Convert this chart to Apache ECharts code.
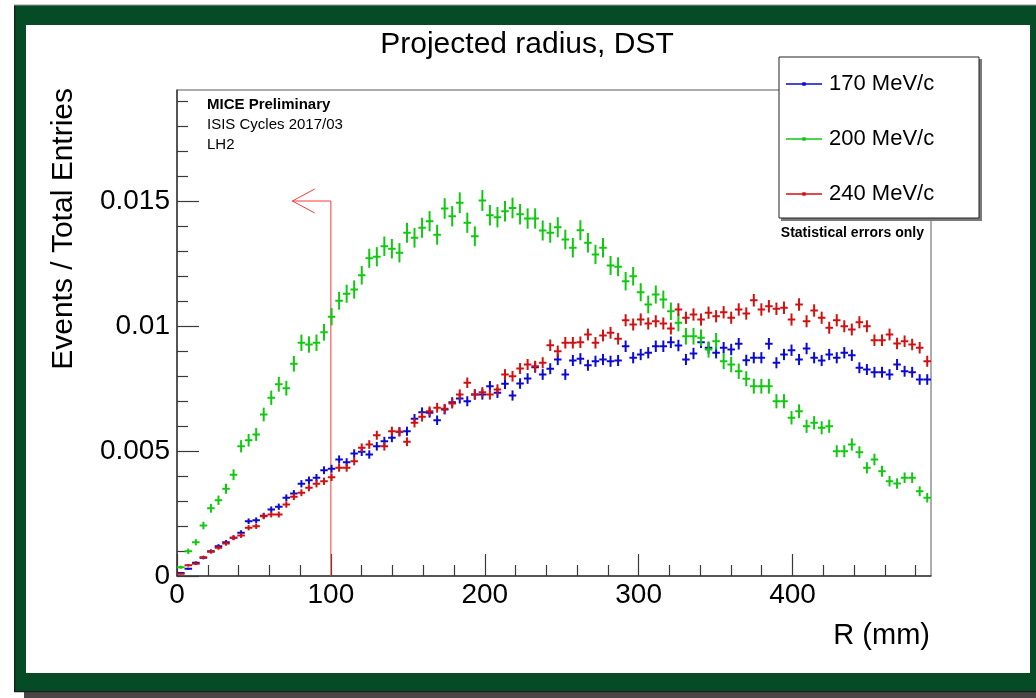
<!DOCTYPE html>
<html><head><meta charset="utf-8">
<script src="https://cdn.jsdelivr.net/npm/echarts@6/dist/echarts.min.js"></script>
<style>html,body{margin:0;padding:0;background:#fff}#c{width:1036px;height:698px}</style>
</head><body><div id="c"></div>
<script>
// ---- histogram binning (R in mm) ----
const binWidth = 4.9;
const nBins = 100;
const rMin = 0, rMax = 490;
const yMin = 0, yMax = 0.01944;

const seriesNames = ['170 MeV/c', '200 MeV/c', '240 MeV/c'];
const seriesColors = ['#0a0ad2', '#10c810', '#d21010'];

// ---- bin contents (Events / Total Entries) ----
const p170 = [
0.00012,0.00029,0.00053,0.00073,0.00099,0.00119,0.00135,0.00153,0.00173,0.00219,
0.00223,0.00241,0.00266,0.00277,0.00313,0.00330,0.00369,0.00383,0.00393,0.00423,
0.00429,0.00466,0.00455,0.00490,0.00497,0.00486,0.00519,0.00539,0.00553,0.00577,
0.00579,0.00629,0.00655,0.00653,0.00623,0.00666,0.00695,0.00710,0.00699,0.00726,
0.00726,0.00759,0.00733,0.00769,0.00722,0.00770,0.00790,0.00835,0.00806,0.00829,
0.00866,0.00806,0.00862,0.00869,0.00843,0.00859,0.00866,0.00859,0.00862,0.00919,
0.00873,0.00886,0.00893,0.00919,0.00919,0.00935,0.00922,0.00866,0.00890,0.00935,
0.00913,0.00893,0.00913,0.00906,0.00929,0.00863,0.00873,0.00873,0.00929,0.00853,
0.00886,0.00903,0.00866,0.00910,0.00873,0.00862,0.00886,0.00873,0.00893,0.00883,
0.00833,0.00826,0.00815,0.00815,0.00806,0.00846,0.00819,0.00815,0.00786,0.00786];

const p200 = [
0.00035,0.00099,0.00135,0.00202,0.00271,0.00303,0.00349,0.00405,0.00519,0.00543,
0.00566,0.00646,0.00713,0.00767,0.00751,0.00849,0.00933,0.00926,0.00933,0.00975,
0.01037,0.01101,0.01129,0.01146,0.01203,0.01271,0.01277,0.01319,0.01309,0.01293,
0.01373,0.01353,0.01393,0.01419,0.01365,0.01470,0.01439,0.01493,0.01413,0.01359,
0.01502,0.01443,0.01435,0.01459,0.01472,0.01447,0.01430,0.01430,0.01382,0.01373,
0.01395,0.01346,0.01313,0.01383,0.01333,0.01286,0.01313,0.01242,0.01237,0.01179,
0.01199,0.01135,0.01086,0.01126,0.01106,0.01059,0.01013,0.00959,0.00959,0.00953,
0.00906,0.00939,0.00859,0.00846,0.00819,0.00789,0.00759,0.00759,0.00759,0.00699,
0.00699,0.00633,0.00659,0.00599,0.00613,0.00593,0.00599,0.00499,0.00499,0.00526,
0.00495,0.00433,0.00466,0.00419,0.00379,0.00370,0.00393,0.00393,0.00339,0.00313];

const p240 = [
0.00009,0.00043,0.00049,0.00075,0.00097,0.00113,0.00130,0.00153,0.00162,0.00193,
0.00199,0.00239,0.00246,0.00246,0.00286,0.00317,0.00333,0.00353,0.00369,0.00379,
0.00395,0.00433,0.00433,0.00459,0.00513,0.00526,0.00563,0.00519,0.00579,0.00577,
0.00537,0.00613,0.00637,0.00659,0.00673,0.00669,0.00690,0.00726,0.00773,0.00726,
0.00735,0.00726,0.00746,0.00806,0.00799,0.00830,0.00846,0.00839,0.00853,0.00923,
0.00899,0.00933,0.00933,0.00935,0.00966,0.00933,0.00962,0.00973,0.00949,0.01023,
0.01006,0.01026,0.01010,0.01019,0.01010,0.00990,0.01066,0.01033,0.01046,0.01026,
0.01053,0.01039,0.01055,0.01033,0.01066,0.01050,0.01103,0.01066,0.01079,0.01069,
0.01073,0.01026,0.01086,0.01019,0.01062,0.01033,0.00993,0.01023,0.00999,0.00986,
0.01015,0.00999,0.00943,0.00943,0.00966,0.00930,0.00939,0.00926,0.00913,0.00859];

// statistical error scale (error = scale * sqrt(content))
const errScales = [0.0024, 0.0034, 0.0024];

// ---- ticks ----
const xMajorTicks = [0, 100, 200, 300, 400];
const xMinorTicks = [20, 40, 60, 80, 120, 140, 160, 180, 220, 240, 260, 280, 320, 340, 360, 380, 420, 440, 460, 480];
const yMajorTicks = [0, 0.005, 0.01, 0.015];
const yMinorTicks = [0.001, 0.002, 0.003, 0.004, 0.006, 0.007, 0.008, 0.009, 0.011, 0.012, 0.013, 0.014, 0.016, 0.017, 0.018, 0.019];

// ---- cut marker (R = 100 mm) ----
const cutR = 100, cutLevel = 0.015, arrowTipR = 75, arrowHeadR = 89.5, arrowHeadHalf = 0.00048;

const FONT = '"Liberation Sans", Arial, Helvetica, sans-serif';
const binCenters = Array.from({length: nBins}, (_, i) => (i + 0.5) * binWidth);
const allValues = [p170, p200, p240];

function crossSeries(idx) {
  const vals = allValues[idx];
  const color = seriesColors[idx];
  return {
    name: seriesNames[idx],
    type: 'custom',
    xAxisIndex: 0, yAxisIndex: 0,
    itemStyle: {color: color},
    encode: {x: 0, y: 1},
    data: binCenters.map((c, i) => [c, vals[i], errScales[idx] * Math.sqrt(vals[i])]),
    z: 3,
    renderItem: function (params, api) {
      const x = api.value(0), y = api.value(1), e = api.value(2);
      const hw = binWidth / 2;
      const l = api.coord([x - hw, y]), r = api.coord([x + hw, y]);
      const b = api.coord([x, y - e]), t = api.coord([x, y + e]);
      const st = {stroke: color, lineWidth: 2};
      return {type: 'group', children: [
        {type: 'line', shape: {x1: l[0], y1: l[1], x2: r[0], y2: r[1]}, style: st},
        {type: 'line', shape: {x1: b[0], y1: b[1], x2: t[0], y2: t[1]}, style: st}
      ]};
    }
  };
}

const cutSeries = {
  name: 'cut', type: 'custom', xAxisIndex: 0, yAxisIndex: 0, z: 2,
  data: [[cutR, cutLevel, arrowTipR, arrowHeadR, arrowHeadHalf]],
  encode: {x: 0, y: 1},
  renderItem: function (params, api) {
    const cx = api.value(0), cy = api.value(1), tip = api.value(2), hx = api.value(3), hh = api.value(4);
    const p0 = api.coord([cx, 0]), p1 = api.coord([cx, cy]), p2 = api.coord([tip, cy]);
    const a1 = api.coord([hx, cy + hh]), a2 = api.coord([hx, cy - hh]);
    const st = {stroke: '#f23a3a', lineWidth: 1, fill: null};
    return {type: 'group', children: [
      {type: 'polyline', shape: {points: [p0, p1, p2]}, style: st},
      {type: 'polyline', shape: {points: [a1, p2, a2]}, style: st}
    ]};
  }
};

const axisLineStyle = {color: '#3a3a3a', width: 1.5};
const tickStyle = {color: '#3a3a3a', width: 1.2};

const chart = echarts.init(document.getElementById('c'), null, {renderer: 'canvas'});
chart.setOption({
  backgroundColor: '#ffffff',
  animation: false,
  grid: {left: 177, right: 105, top: 90, bottom: 122, show: true, borderColor: '#5a5a5a', borderWidth: 1, backgroundColor: 'transparent'},
  xAxis: [
    {type: 'value', min: rMin, max: rMax, position: 'bottom',
     axisLine: {show: true, lineStyle: axisLineStyle},
     axisTick: {show: true, inside: true, length: 22, lineStyle: tickStyle, customValues: xMajorTicks},
     axisLabel: {show: true, customValues: xMajorTicks, margin: 5, fontFamily: FONT, fontSize: 28, color: '#000'},
     splitLine: {show: false}},
    {type: 'value', min: rMin, max: rMax, position: 'bottom', gridIndex: 0,
     axisLine: {show: false},
     axisTick: {show: true, inside: true, length: 11, lineStyle: tickStyle, customValues: xMinorTicks},
     axisLabel: {show: false}, splitLine: {show: false}}
  ],
  yAxis: [
    {type: 'value', min: yMin, max: yMax, position: 'left',
     axisLine: {show: true, lineStyle: axisLineStyle},
     axisTick: {show: true, inside: true, length: 22, lineStyle: tickStyle, customValues: yMajorTicks},
     axisLabel: {show: true, customValues: yMajorTicks, margin: 7, fontFamily: FONT, fontSize: 28, color: '#000',
                 formatter: v => (v === 0 ? '0' : String(v))},
     splitLine: {show: false}},
    {type: 'value', min: yMin, max: yMax, position: 'left', gridIndex: 0,
     axisLine: {show: false},
     axisTick: {show: true, inside: true, length: 11, lineStyle: tickStyle, customValues: yMinorTicks},
     axisLabel: {show: false}, splitLine: {show: false}}
  ],
  legend: {
    show: true, data: seriesNames, orient: 'vertical', left: 786, top: 73, padding: 0,
    itemGap: 33, itemWidth: 36, itemHeight: 4,
    icon: 'path://M0,1.3 L36,1.3 L36,2.7 L0,2.7 Z M16.3,0.3 L19.7,0.3 L19.7,3.7 L16.3,3.7 Z',
    textStyle: {fontFamily: FONT, fontSize: 22, lineHeight: 22, color: '#000', padding: [0, 0, 0, 2]},
    backgroundColor: 'transparent', borderWidth: 0, z: 8
  },
  graphic: [
    // outer canvas frame
    {type: 'rect', z: -5, shape: {x: 24, y: 686, width: 1012, height: 12}, style: {fill: '#474747'}},
    {type: 'rect', z: -4, shape: {x: 14, y: 5, width: 1022, height: 687}, style: {fill: '#054c26'}},
    {type: 'rect', z: -3, shape: {x: 14, y: 5, width: 1.3, height: 687}, style: {fill: '#1c1c1c'}},
    {type: 'rect', z: -3, shape: {x: 14, y: 4.5, width: 1022, height: 1}, style: {fill: '#9a9a9a'}},
    {type: 'rect', z: -3, shape: {x: 14, y: 691, width: 1022, height: 1.2}, style: {fill: '#1c1c1c'}},
    {type: 'rect', z: -2, shape: {x: 26, y: 25, width: 1004, height: 648}, style: {fill: '#ffffff'}},
    // legend box with shadow
    {type: 'rect', z: 6, shape: {x: 781, y: 59, width: 201, height: 162}, style: {fill: '#7a7a7a'}},
    {type: 'rect', z: 7, shape: {x: 779, y: 57, width: 200, height: 161}, style: {fill: '#ffffff', stroke: '#222', lineWidth: 1}},
    // titles and notes
    {type: 'text', z: 10, x: 527, y: 45, style: {text: 'Projected radius, DST', font: '30px ' + FONT, fill: '#000', textAlign: 'center', textVerticalAlign: 'middle', align: 'center', verticalAlign: 'middle'}},
    {type: 'text', z: 10, x: 64, y: 88, rotation: Math.PI / 2, style: {text: 'Events / Total Entries', font: '30px ' + FONT, fill: '#000', textAlign: 'right', textVerticalAlign: 'middle', align: 'right', verticalAlign: 'middle'}},
    {type: 'text', z: 10, x: 930, y: 636, style: {text: 'R (mm)', font: '29px ' + FONT, fill: '#000', textAlign: 'right', textVerticalAlign: 'middle', align: 'right', verticalAlign: 'middle'}},
    {type: 'text', z: 10, x: 207, y: 105, style: {text: 'MICE Preliminary', font: 'bold 15px ' + FONT, fill: '#000', textAlign: 'left', textVerticalAlign: 'middle', align: 'left', verticalAlign: 'middle'}},
    {type: 'text', z: 10, x: 207, y: 124.5, style: {text: 'ISIS Cycles 2017/03', font: '15px ' + FONT, fill: '#000', textAlign: 'left', textVerticalAlign: 'middle', align: 'left', verticalAlign: 'middle'}},
    {type: 'text', z: 10, x: 207, y: 144.5, style: {text: 'LH2', font: '15px ' + FONT, fill: '#000', textAlign: 'left', textVerticalAlign: 'middle', align: 'left', verticalAlign: 'middle'}},
    {type: 'text', z: 10, x: 924, y: 233, style: {text: 'Statistical errors only', font: 'bold 14px ' + FONT, fill: '#000', textAlign: 'right', textVerticalAlign: 'middle', align: 'right', verticalAlign: 'middle'}}
  ],
  series: [crossSeries(0), crossSeries(1), crossSeries(2), cutSeries]
});
</script></body></html>
